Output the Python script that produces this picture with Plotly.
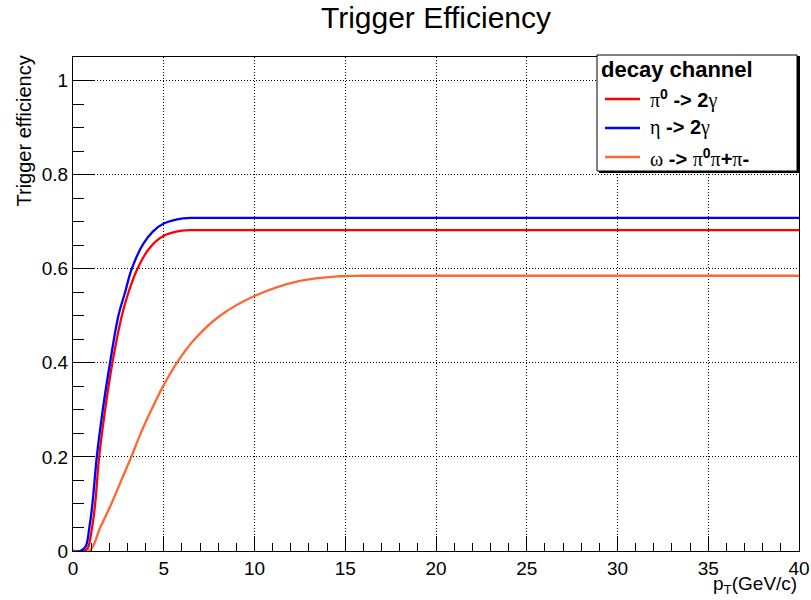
import plotly.graph_objects as go

# ---- data ----
pt_pi0 = [0, 0.6, 0.8, 1.05, 1.22, 1.44, 1.77, 2.17, 2.69, 3.06, 3.55, 4.2, 5.0, 6.0, 7.0, 40]
eff_pi0 = [0, 0, 0.005, 0.05, 0.10, 0.20, 0.30, 0.40, 0.50, 0.55, 0.60, 0.643, 0.670, 0.681, 0.682, 0.682]

pt_eta = [0, 0.4, 0.7, 0.9, 1.07, 1.31, 1.64, 2.04, 2.5, 2.87, 3.24, 3.87, 4.4, 5.0, 6.06, 7.0, 40]
eff_eta = [0, 0, 0.01, 0.05, 0.10, 0.20, 0.30, 0.40, 0.50, 0.55, 0.60, 0.653, 0.679, 0.696, 0.707, 0.708, 0.708]

pt_omega = [0, 0.9, 1.5, 2.11, 2.66, 3.21, 3.73, 4.32, 4.96, 5.72, 6.7, 8.1, 10.0, 12.5, 14.7, 16, 40]
eff_omega = [0, 0, 0.05, 0.10, 0.15, 0.20, 0.25, 0.30, 0.35, 0.40, 0.45, 0.50, 0.542, 0.574, 0.584, 0.585, 0.585]

G = '<span style="font-family:Liberation Serif, Times New Roman, serif">%s</span>'
series_names = [G % "π" + "<sup><b>0</b></sup><b> -&gt; 2</b>" + G % "γ",
                G % "η" + "<b> -&gt; 2</b>" + G % "γ",
                G % "ω" + "<b> -&gt; </b>" + G % "π" + "<sup><b>0</b></sup>" + G % "π"
                + "<b>+</b>" + G % "π" + "<b>-</b>"]
series_colors = ["#ff0000", "#0000ff", "#ff6633"]
legend_title = "<b>decay channel</b>"

x_range = [0, 40]
y_range = [0, 1.05]

# ---- layout geometry (pixels) ----
W, H = 811, 600
L, R, T, B = 73, 12, 57, 49
PW, PH = W - L - R, H - T - B

def px(xp):
    return (xp - L) / PW

def py(yp):
    return (H - B - yp) / PH

fig = go.Figure()
for xs, ys, name, col in zip([pt_pi0, pt_eta, pt_omega], [eff_pi0, eff_eta, eff_omega],
                             series_names, series_colors):
    fig.add_trace(go.Scatter(x=xs, y=ys, mode="lines", name=name, showlegend=False,
                             line=dict(color=col, width=2.3, shape="spline", smoothing=1.0)))

FONT = "Liberation Sans, Arial, Helvetica, sans-serif"

axis_common = dict(
    showline=True, linecolor="black", linewidth=1, mirror=True,
    ticks="inside", tickcolor="black", tickwidth=1,
    showgrid=True, gridcolor="black", gridwidth=1, griddash="1px,2px",
    zeroline=False, automargin=False,
    tickfont=dict(family=FONT, size=19, color="black"),
)

fig.update_xaxes(range=x_range, dtick=5, tick0=0, ticklen=15,
                 minor=dict(ticks="inside", dtick=1, ticklen=8, tickcolor="black", showgrid=False),
                 **axis_common)
fig.update_yaxes(range=y_range, tickvals=[0, 0.2, 0.4, 0.6, 0.8, 1],
                 ticktext=["0", "0.2", "0.4", "0.6", "0.8", "1"], ticklen=22,
                 minor=dict(ticks="inside", dtick=0.05, tick0=0, ticklen=11, tickcolor="black", showgrid=False),
                 **axis_common)

# legend box (with ROOT-like shadow)
fig.add_shape(type="rect", xref="paper", yref="paper",
              x0=px(599), x1=px(800), y0=py(173), y1=py(57),
              fillcolor="black", line=dict(width=0), layer="above")
fig.add_shape(type="rect", xref="paper", yref="paper",
              x0=px(597), x1=px(797), y0=py(171), y1=py(55),
              fillcolor="white", line=dict(color="black", width=1), layer="above")

annotations = [
    dict(text="Trigger efficiency", textangle=-90, xref="paper", yref="paper",
         x=px(23), y=py(54), xanchor="center", yanchor="top", showarrow=False,
         font=dict(family=FONT, size=20, color="black")),
    dict(text="p<sub>T</sub>(GeV/c)", xref="paper", yref="paper",
         x=px(799), y=py(571), xanchor="right", yanchor="top", showarrow=False,
         font=dict(family=FONT, size=19, color="black")),
    dict(text=legend_title, xref="paper", yref="paper", x=px(599), y=py(69),
         xanchor="left", yanchor="middle", showarrow=False,
         font=dict(family=FONT, size=22, color="black")),
]

# legend entries
row_y = [99, 128, 157]
for name, col, yy in zip(series_names, series_colors, row_y):
    fig.add_shape(type="line", xref="paper", yref="paper",
                  x0=px(605), x1=px(640), y0=py(yy), y1=py(yy),
                  line=dict(color=col, width=2.3), layer="above")
    annotations.append(dict(text=name, xref="paper", yref="paper", x=px(648), y=py(yy),
                            xanchor="left", yanchor="middle", showarrow=False,
                            font=dict(family=FONT, size=20, color="black")))

fig.update_layout(
    width=W, height=H,
    margin=dict(l=L, r=R, t=T, b=B, autoexpand=False),
    paper_bgcolor="white", plot_bgcolor="white",
    font=dict(family=FONT, color="black"),
    title=dict(text="Trigger Efficiency", x=0.5, xref="paper", xanchor="center",
               y=1 - 17 / H, yref="container", yanchor="middle",
               font=dict(family=FONT, size=30, color="black")),
    annotations=annotations,
)

fig.write_html("out.html")
